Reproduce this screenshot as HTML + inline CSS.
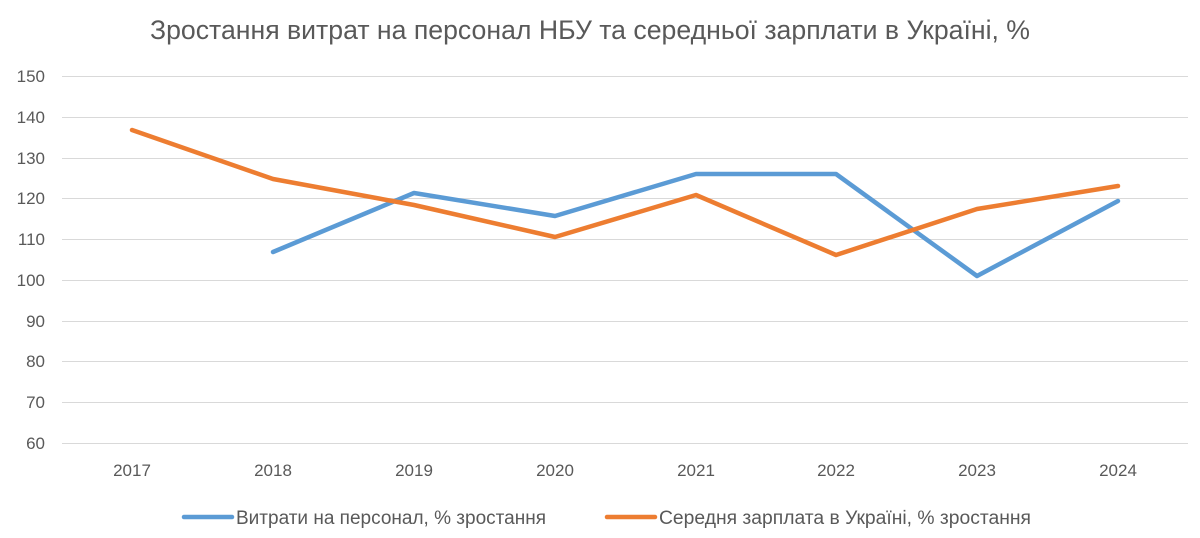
<!DOCTYPE html>
<html><head><meta charset="utf-8"><style>
body{margin:0;background:#fff;}
svg{display:block;font-family:"Liberation Sans","DejaVu Sans",sans-serif;}
</style></head><body>
<svg width="1200" height="538" viewBox="0 0 1200 538">
<rect width="1200" height="538" fill="#fff"/>
<text x="590" y="39" text-anchor="middle" font-size="27" fill="#595959" textLength="880" lengthAdjust="spacingAndGlyphs">Зростання витрат на персонал НБУ та середньої зарплати в Україні, %</text>
<g stroke="#d9d9d9" stroke-width="1">
<line x1="62" x2="1188" y1="76.5" y2="76.5"/>
<line x1="62" x2="1188" y1="117.5" y2="117.5"/>
<line x1="62" x2="1188" y1="158.5" y2="158.5"/>
<line x1="62" x2="1188" y1="198.5" y2="198.5"/>
<line x1="62" x2="1188" y1="239.5" y2="239.5"/>
<line x1="62" x2="1188" y1="280.5" y2="280.5"/>
<line x1="62" x2="1188" y1="321.5" y2="321.5"/>
<line x1="62" x2="1188" y1="361.5" y2="361.5"/>
<line x1="62" x2="1188" y1="402.5" y2="402.5"/>
<line x1="62" x2="1188" y1="443.5" y2="443.5"/>
</g>
<g font-size="17" fill="#595959" text-anchor="end">
<text x="45" y="82">150</text><text x="45" y="123">140</text><text x="45" y="164">130</text>
<text x="45" y="204">120</text><text x="45" y="245">110</text><text x="45" y="286">100</text>
<text x="45" y="327">90</text><text x="45" y="367">80</text><text x="45" y="408">70</text><text x="45" y="449">60</text>
</g>
<g font-size="17" fill="#595959" text-anchor="middle">
<text x="132" y="476">2017</text><text x="273" y="476">2018</text><text x="414" y="476">2019</text>
<text x="555" y="476">2020</text><text x="696" y="476">2021</text><text x="836" y="476">2022</text>
<text x="977" y="476">2023</text><text x="1118" y="476">2024</text>
</g>
<polyline fill="none" stroke="#5b9bd5" stroke-width="4.5" stroke-linejoin="round" stroke-linecap="round"
points="273,252 414,193 555,216 696,174 836,174 977,276 1118,201"/>
<polyline fill="none" stroke="#ed7d31" stroke-width="4.5" stroke-linejoin="round" stroke-linecap="round"
points="132,130 273,179 414,205 555,237 696,195 836,255 977,209 1118,186"/>
<line x1="184" x2="232" y1="517" y2="517" stroke="#5b9bd5" stroke-width="4.5" stroke-linecap="round"/>
<text x="236" y="524" font-size="19" fill="#595959" textLength="310" lengthAdjust="spacingAndGlyphs">Витрати на персонал, % зростання</text>
<line x1="607" x2="655" y1="517" y2="517" stroke="#ed7d31" stroke-width="4.5" stroke-linecap="round"/>
<text x="659" y="524" font-size="19" fill="#595959" textLength="372" lengthAdjust="spacingAndGlyphs">Середня зарплата в Україні, % зростання</text>
</svg>
</body></html>
